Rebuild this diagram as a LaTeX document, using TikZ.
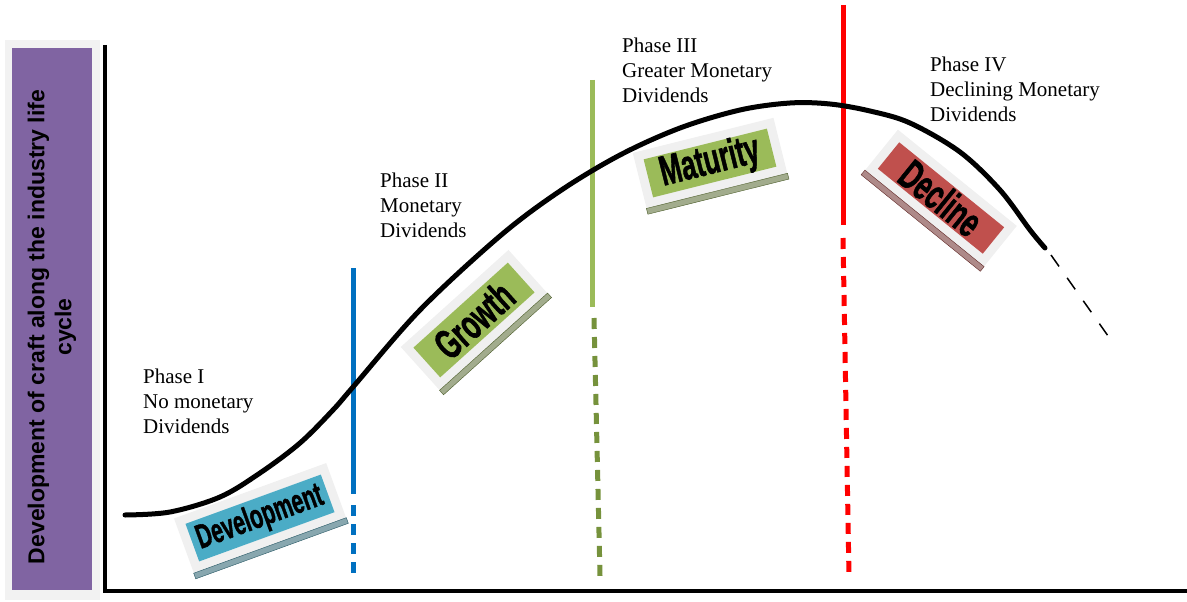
\documentclass[tikz,border=0pt]{standalone}
\usepackage{fontspec}
\usepackage{graphicx}
\setmainfont{Liberation Serif}
\setsansfont{Liberation Sans}
\newfontfamily\tagfont[FakeBold=1.6]{Liberation Sans Bold}
\usetikzlibrary{calc}

\definecolor{axispurple}{RGB}{128,100,162}
\definecolor{devcol}{RGB}{75,172,198}
\definecolor{growcol}{RGB}{155,187,89}
\definecolor{declcol}{RGB}{192,80,77}
\definecolor{bluebar}{RGB}{0,112,192}
\definecolor{greenbar}{RGB}{155,187,89}
\definecolor{greendash}{RGB}{118,146,60}

\begin{document}
\begin{tikzpicture}[x=1pt, y=-1pt,
        tagback/.style={fill=black!6, inner sep=0pt},
        tag/.style={inner sep=0pt},
        phase/.style={anchor=north west, inner sep=0pt, align=left,
            font=\fontsize{21}{25}\selectfont},
        bar/.style={line width=5pt},
        bardash/.style={line width=5pt, dash pattern=on 11pt off 8pt}]
        \useasboundingbox (0,0) rectangle (1187,602);

        % rotated stage labels with a hatched edge below
        \def\stagetag(#1)at(#2)#3#4#5#6#7#8{
            \node[tagback, rotate=#3, minimum width=#4, minimum height=#5] (#1back) at (#2) {};
            \filldraw[#6!40!gray!80, draw=#6!50!black, line width=0.4pt] (#1back.south west) -- (#1back.south east)
                -- ($(#1back.south east)!6pt!90:(#1back.south west)$)
                -- ($(#1back.south west)!6pt!-90:(#1back.south east)$) -- cycle;
            \node[tag, fill=#6, rotate=#3, minimum width=#4-18, minimum height=#5-18,
                font=\tagfont\fontsize{#7}{#7}\selectfont] (#1) at (#1back) {\scalebox{0.62}[1]{#8}};}

        % axis title
        \fill[black!5] (5,40) rectangle (100,600);
        \node[fill=axispurple, minimum width=80, minimum height=542, inner sep=0pt] (ytitle) at (52,319) {};
        \node[rotate=90, align=center, font=\sffamily\bfseries\fontsize{23}{27}\selectfont] (ylabel) at ([yshift=-8]ytitle.center) {Development of craft along the industry life\\cycle};

        % axes
        \draw[line width=4pt] (105,45) -- (105,591) -- (1187,591);

        % phase borders
        \draw[bar, bluebar] (353,268) -- (353,494);
        \draw[bardash, bluebar] (353,505) -- (353,578);
        \draw[bar, greenbar] (592,80) -- (592,307);
        \draw[bardash, greendash] (594,318) -- (600,576);
        \draw[bar, red] (843,5) -- (843,225);
        \draw[bardash, red] (843,238) -- (849,576);

        % life cycle curve
        \draw[line width=5pt, line cap=round] plot[smooth, tension=0.55] coordinates {
            (125,515) (170,512) (220,497) (260,473) (300,443) (333,410) (353,387) (420,310) (500,236)
            (560,191) (620,155) (680,128) (740,110) (790,103) (830,104) (870,111) (910,123) (960,152)
            (1000,190) (1030,230) (1045,248)};
        \draw[line width=1.5pt, dash pattern=on 14pt off 14pt] (1051,255) -- (1113,343);

        \stagetag(dev)at(260,518){20}{162}{58}{devcol}{34}{Development}
        \stagetag(grow)at(474,320){42}{145}{58}{growcol}{42}{Growth}
        \stagetag(mat)at(710,163){14}{145}{57}{growcol}{42}{Maturity}
        \stagetag(decl)at(941,198){-39}{153}{52}{declcol}{42}{Decline}

        \node[phase] (phaseI) at (143,369) {Phase I\\No monetary\\Dividends};
        \node[phase] (phaseII) at (380,173) {Phase II\\Monetary\\Dividends};
        \node[phase] (phaseIII) at (622,38) {Phase III\\Greater Monetary\\Dividends};
        \node[phase] (phaseIV) at (930,57) {Phase IV\\Declining Monetary\\Dividends};
\end{tikzpicture}
\end{document}
